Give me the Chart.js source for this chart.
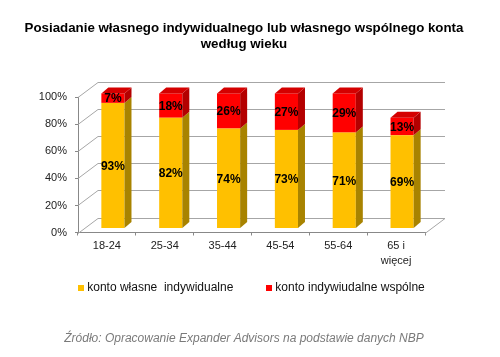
<!DOCTYPE html>
<html>
<head>
<meta charset="utf-8">
<script src="https://cdn.jsdelivr.net/npm/chart.js@4/dist/chart.umd.min.js"></script>
<style>
  html, body { margin: 0; padding: 0; background: #ffffff; }
  #wrap { width: 500px; height: 357px; position: relative; }
</style>
</head>
<body>
<div id="wrap"><canvas id="c" width="500" height="357"></canvas></div>
<script>
// ---- data ----
const categories = ['18-24', '25-34', '35-44', '45-54', '55-64', ['65 i', 'więcej']];
const seriesNames = ['konto własne  indywidualne', 'konto indywiudalne wspólne'];
const ownIndividual = [93, 82, 74, 73, 71, 69];
const ownJoint = [7, 18, 26, 27, 29, 13];
const yTicks = [0, 20, 40, 60, 80, 100];
const titleLines = ['Posiadanie własnego indywidualnego lub własnego wspólnego konta', 'według wieku'];
const sourceText = 'Źródło: Opracowanie Expander Advisors na podstawie danych NBP';

// ---- styles ----
const FONT = '"Liberation Sans", Arial, sans-serif';
const frontColors = ['#FFC000', '#FF0000'];
const sideColors = ['#A88300', '#B40000'];
const topColor = '#D40000';
const WALL_DX = 20, WALL_DY = 15;   // depth of the back wall
const BAR_DX = 7, BAR_DY = 6;       // depth of each bar
const BAR_SHIFT_X = 6, BAR_SHIFT_Y = -4;

const grid3d = {
  id: 'grid3d',
  beforeDatasetsDraw(chart) {
    const ctx = chart.ctx;
    const y = chart.scales.y, area = chart.chartArea;
    ctx.save();
    ctx.strokeStyle = '#a6a6a6';
    ctx.lineWidth = 1;
    yTicks.forEach(v => {
      const py = Math.round(y.getPixelForValue(v)) + 0.5;
      ctx.beginPath();
      ctx.moveTo(area.left, py);
      ctx.lineTo(area.left + WALL_DX, py - WALL_DY);
      ctx.lineTo(area.right + WALL_DX, py - WALL_DY);
      ctx.stroke();
    });
    const pb = Math.round(y.getPixelForValue(0)) + 0.5;
    ctx.beginPath();
    ctx.moveTo(area.right, pb);
    ctx.lineTo(area.right + WALL_DX, pb - WALL_DY);
    ctx.stroke();
    ctx.restore();
    ctx.save();
    ctx.translate(BAR_SHIFT_X, BAR_SHIFT_Y);
  },
  afterDatasetsDraw(chart) {
    const ctx = chart.ctx;
    const n = chart.data.datasets.length;
    for (let d = 0; d < n; d++) {
      const meta = chart.getDatasetMeta(d);
      meta.data.forEach((bar, i) => {
        const p = bar.getProps(['x', 'y', 'base', 'width'], true);
        const l = p.x - p.width / 2, r = p.x + p.width / 2;
        const t = Math.min(p.y, p.base), b = Math.max(p.y, p.base);
        ctx.fillStyle = sideColors[d];
        ctx.beginPath();
        ctx.moveTo(r, t); ctx.lineTo(r + BAR_DX, t - BAR_DY);
        ctx.lineTo(r + BAR_DX, b - BAR_DY); ctx.lineTo(r, b);
        ctx.closePath(); ctx.fill();
        if (d === n - 1) {
          ctx.fillStyle = topColor;
          ctx.beginPath();
          ctx.moveTo(l, t); ctx.lineTo(l + BAR_DX, t - BAR_DY);
          ctx.lineTo(r + BAR_DX, t - BAR_DY); ctx.lineTo(r, t);
          ctx.closePath(); ctx.fill();
        }
        const val = chart.data.datasets[d].data[i];
        ctx.fillStyle = '#000';
        ctx.font = 'bold 12px ' + FONT;
        ctx.textAlign = 'center';
        ctx.textBaseline = 'middle';
        ctx.fillText(val + '%', p.x, (t + b) / 2 + 1);
      });
    }
    ctx.restore();
  },
  afterDraw(chart) {
    // legend row
    const ctx = chart.ctx, area = chart.chartArea;
    const BOX = 6, GAP = 3, ITEM_GAP = 33;
    ctx.save();
    ctx.font = '12px ' + FONT;
    ctx.textBaseline = 'middle';
    ctx.textAlign = 'left';
    const ds = chart.data.datasets;
    const widths = ds.map(d => BOX + GAP + ctx.measureText(d.label).width);
    const total = widths.reduce((a, b) => a + b, 0) + ITEM_GAP * (ds.length - 1);
    let x = (area.left + area.right) / 2 - total / 2;
    const y = chart.scales.x.bottom + 16.5;
    ds.forEach((d, i) => {
      ctx.fillStyle = d.backgroundColor;
      ctx.fillRect(Math.round(x), Math.round(y - BOX / 2), BOX, BOX);
      ctx.fillStyle = '#111';
      ctx.fillText(d.label, x + BOX + GAP, y);
      x += widths[i] + ITEM_GAP;
    });
    ctx.restore();
  }
};

new Chart(document.getElementById('c'), {
  type: 'bar',
  data: {
    labels: categories,
    datasets: [
      { label: seriesNames[0], data: ownIndividual, backgroundColor: frontColors[0],
        barPercentage: 0.4, categoryPercentage: 1.0, clip: false },
      { label: seriesNames[1], data: ownJoint, backgroundColor: frontColors[1],
        barPercentage: 0.4, categoryPercentage: 1.0, clip: false }
    ]
  },
  options: {
    responsive: false,
    animation: false,
    devicePixelRatio: 1,
    layout: { padding: { left: 0, right: 12, top: 0, bottom: 0 } },
    scales: {
      x: {
        stacked: true,
        grid: { drawOnChartArea: false, drawTicks: true, tickLength: 3, color: '#888' },
        border: { color: '#888' },
        ticks: { color: '#222', font: { family: FONT, size: 11, lineHeight: 1.35 }, padding: 3,
                 maxRotation: 0, autoSkip: false }
      },
      y: {
        stacked: true, min: 0, max: 100,
        afterFit: s => { s.width = 78; },
        afterBuildTicks: s => { s.ticks = yTicks.map(v => ({ value: v })); },
        grid: { drawOnChartArea: false, drawTicks: true, tickLength: 3, color: '#888' },
        border: { color: '#888' },
        ticks: { color: '#222', font: { family: FONT, size: 11 }, padding: 8,
                 autoSkip: false, callback: v => v + '%' }
      },
      yPad: {
        type: 'linear', axis: 'y', position: 'right', display: true,
        afterFit: s => { s.width = 63; },
        grid: { display: false }, border: { display: false }, ticks: { display: false }
      }
    },
    plugins: {
      title: {
        display: true, text: titleLines, color: '#000',
        font: { family: FONT, size: 13.3, weight: 'bold', lineHeight: 1.2 },
        padding: { top: 20, bottom: 45.5 }
      },
      subtitle: {
        display: true, position: 'bottom', text: sourceText, color: '#7a7a7a',
        font: { family: FONT, size: 12, style: 'italic', lineHeight: 1.2 },
        padding: { top: 60.6, bottom: 10.8 }
      },
      legend: { display: false },
      tooltip: { enabled: false }
    }
  },
  plugins: [grid3d]
});
</script>
</body>
</html>
